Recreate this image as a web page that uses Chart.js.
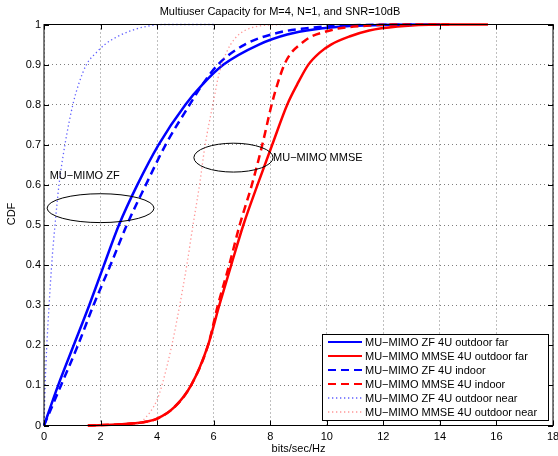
<!DOCTYPE html>
<html>
<head>
<meta charset="utf-8">
<script src="https://cdn.jsdelivr.net/npm/chart.js@4.4.1/dist/chart.umd.min.js"></script>
<style>
html,body{margin:0;padding:0;background:#fff;}
#wrap{width:558px;height:456px;}
</style>
</head>
<body>
<div id="wrap"><canvas id="c" width="558" height="456"></canvas></div>
<script>
// ---- data ----
const titleText = "Multiuser Capacity for M=4, N=1, and SNR=10dB";
const xAxisLabel = "bits/sec/Hz";
const yAxisLabel = "CDF";
const xTicks = [0,2,4,6,8,10,12,14,16,18];
const yTicks = [0,0.1,0.2,0.3,0.4,0.5,0.6,0.7,0.8,0.9,1];

const seriesLabels = [
  "MU\u2212MIMO ZF 4U outdoor far",
  "MU\u2212MIMO MMSE 4U outdoor far",
  "MU\u2212MIMO ZF 4U indoor",
  "MU\u2212MIMO MMSE 4U indoor",
  "MU\u2212MIMO ZF 4U outdoor near",
  "MU\u2212MIMO MMSE 4U outdoor near"
];

const zfFarX  = [0,0.5,1.05,1.6,2.12,2.65,3.3,4.05,5.0,5.6,6.35,7.6,8.6,9.6,10.8,12.0,14.0];
const zfFarY  = [0,0.1,0.2,0.3,0.4,0.5,0.6,0.7,0.8,0.85,0.9,0.95,0.975,0.988,0.996,0.999,1];

const mmseFarX = [1.55,2.7,3.5,4.0,4.6,5.2,5.8,6.2,6.62,7.05,7.55,8.07,8.6,8.95,9.35,9.75,10.15,10.8,11.5,12.5,14.0,15.7];
const mmseFarY = [0,0.003,0.008,0.017,0.045,0.1,0.2,0.3,0.4,0.5,0.6,0.7,0.8,0.85,0.9,0.93,0.95,0.97,0.985,0.995,1,1];

const zfInX  = [0,0.6,1.2,1.75,2.35,2.93,3.6,4.3,5.15,5.6,6.15,7.1,8.3,9.2,10.5,13.0];
const zfInY  = [0,0.1,0.2,0.3,0.4,0.5,0.6,0.7,0.8,0.85,0.9,0.95,0.98,0.99,0.997,1];

const mmseInX = [1.55,2.7,3.5,4.0,4.6,5.2,5.8,6.15,6.55,6.92,7.35,7.72,8.05,8.25,8.5,8.75,9.05,9.45,9.85,10.4,11.2,12.5,14.5];
const mmseInY = [0,0.003,0.008,0.017,0.045,0.1,0.2,0.3,0.4,0.5,0.6,0.7,0.8,0.85,0.9,0.93,0.95,0.97,0.98,0.99,0.996,1,1];

const zfNearX = [0,0.04,0.1,0.18,0.27,0.39,0.53,0.74,1.02,1.22,1.5,1.85,2.15,2.6,3.1,3.6,4.2,6.0];
const zfNearY = [0,0.1,0.2,0.3,0.4,0.5,0.6,0.7,0.8,0.85,0.9,0.93,0.95,0.97,0.985,0.995,1,1];

const mmseNearX = [3.15,3.5,4.0,4.17,4.52,4.8,5.05,5.27,5.5,5.7,5.97,6.2,6.45,6.75,7.1,7.6,8.5];
const mmseNearY = [0,0.013,0.064,0.1,0.2,0.3,0.4,0.5,0.6,0.7,0.8,0.88,0.93,0.965,0.985,0.996,1];

// annotations (data coordinates)
const ellipseCX = [2.0, 6.7];
const ellipseCY = [0.542, 0.668];
const ellipseRX = [1.89, 1.4];
const ellipseRY = [0.036, 0.036];
const noteText = ["MU\u2212MIMO ZF", "MU\u2212MIMO MMSE"];
const noteX = [0.2, 8.1];
const noteY = [0.623, 0.666];

// ---- build ----
function pts(xs, ys){ return xs.map((x,i)=>({x:x, y:ys[i]})); }

const styles = [
  {color:'#0000ff', width:2.5, dash:[]},
  {color:'#ff0000', width:2.5, dash:[]},
  {color:'#0000ff', width:2.5, dash:[8,5]},
  {color:'#ff0000', width:2.5, dash:[8,5]},
  {color:'rgba(40,40,255,0.75)', width:1.3, dash:[1.3,2.7]},
  {color:'rgba(255,80,80,0.6)', width:1.3, dash:[1.3,2.7]}
];
const seriesData = [
  pts(zfFarX, zfFarY), pts(mmseFarX, mmseFarY), pts(zfInX, zfInY),
  pts(mmseInX, mmseInY), pts(zfNearX, zfNearY), pts(mmseNearX, mmseNearY)
];

const datasets = seriesData.map((d,i)=>({
  label: seriesLabels[i],
  data: d,
  borderColor: styles[i].color,
  backgroundColor: styles[i].color,
  borderWidth: styles[i].width,
  borderDash: styles[i].dash,
  pointRadius: 0,
  pointHoverRadius: 0,
  fill: false,
  cubicInterpolationMode: 'monotone',
  clip: 4,
  order: 5 - i
}));

const FONT = '"Liberation Sans", Arial, Helvetica, sans-serif';

const decor = {
  id: 'decor',
  afterDatasetsDraw(chart){
    const ctx = chart.ctx, a = chart.chartArea;
    const xs = chart.scales.x, ys = chart.scales.y;
    ctx.save();
    // box
    ctx.strokeStyle = '#000'; ctx.lineWidth = 1; ctx.setLineDash([]);
    ctx.strokeRect(a.left, a.top, a.right - a.left, a.bottom - a.top);
    // inward ticks
    ctx.beginPath();
    xTicks.forEach(v=>{
      const p = Math.round(xs.getPixelForValue(v)) + 0.5;
      ctx.moveTo(p, a.bottom); ctx.lineTo(p, a.bottom - 5);
      ctx.moveTo(p, a.top); ctx.lineTo(p, a.top + 5);
    });
    yTicks.forEach(v=>{
      const p = Math.round(ys.getPixelForValue(v)) + 0.5;
      ctx.moveTo(a.left, p); ctx.lineTo(a.left + 5, p);
      ctx.moveTo(a.right, p); ctx.lineTo(a.right - 5, p);
    });
    ctx.stroke();
    // ellipses
    ctx.lineWidth = 1;
    for (let i=0;i<ellipseCX.length;i++){
      const cx = xs.getPixelForValue(ellipseCX[i]);
      const cy = ys.getPixelForValue(ellipseCY[i]);
      const rx = Math.abs(xs.getPixelForValue(ellipseCX[i]+ellipseRX[i]) - cx);
      const ry = Math.abs(ys.getPixelForValue(ellipseCY[i]+ellipseRY[i]) - cy);
      ctx.beginPath(); ctx.ellipse(cx, cy, rx, ry, 0, 0, Math.PI*2); ctx.stroke();
    }
    // notes
    ctx.fillStyle = '#000';
    ctx.font = '11px ' + FONT;
    ctx.textAlign = 'left'; ctx.textBaseline = 'middle';
    for (let i=0;i<noteText.length;i++){
      ctx.fillText(noteText[i], xs.getPixelForValue(noteX[i]), ys.getPixelForValue(noteY[i]));
    }
    // legend
    const lx = 322, ly = 334, lw = 226, lh = 86;
    ctx.fillStyle = '#fff';
    ctx.fillRect(lx, ly, lw, lh);
    ctx.strokeStyle = '#000';
    ctx.strokeRect(lx + 0.5, ly + 0.5, lw, lh);
    chart.data.datasets.forEach((ds,i)=>{
      const y = ly + 8 + i*14;
      ctx.save();
      ctx.strokeStyle = ds.borderColor;
      ctx.lineWidth = Math.min(ds.borderWidth, 2.2);
      ctx.setLineDash(ds.borderDash);
      ctx.beginPath(); ctx.moveTo(lx + 6, y); ctx.lineTo(lx + 40, y); ctx.stroke();
      ctx.restore();
      ctx.fillStyle = '#000';
      ctx.fillText(ds.label, lx + 43, y + 0.5);
    });
    // title
    ctx.textAlign = 'center';
    ctx.fillText(titleText, 280, 12);
    // y axis title
    ctx.save();
    ctx.translate(12, 214);
    ctx.rotate(-Math.PI/2);
    ctx.fillText(yAxisLabel, 0, 0);
    ctx.restore();
    ctx.restore();
  }
};

new Chart(document.getElementById('c'), {
  type: 'line',
  data: { datasets },
  options: {
    responsive: false,
    animation: false,
    events: [],
    layout: { padding: { top: 24.5, right: 5, left: 0, bottom: 0 } },
    plugins: { legend: { display: false }, tooltip: { enabled: false }, title: { display: false } },
    scales: {
      x: {
        type: 'linear', min: 0, max: 18,
        afterBuildTicks: s => { s.ticks = xTicks.map(v=>({value:v})); },
        afterFit: s => { s.height = 30.5; s.paddingLeft = 0; s.paddingRight = 0; },
        grid: { color: 'rgba(0,0,0,0.5)', lineWidth: 1, drawTicks: false },
        border: { display: false, dash: [1,3] },
        ticks: { color: '#000', padding: 5, maxRotation: 0, autoSkip: false, font: { family: FONT, size: 11 },
                 callback: v => String(v) },
        title: { display: true, text: xAxisLabel, color: '#000', font: { family: FONT, size: 11 }, padding: { top: 0, bottom: 0 } }
      },
      y: {
        type: 'linear', min: 0, max: 1,
        afterBuildTicks: s => { s.ticks = yTicks.map(v=>({value:v})); },
        afterFit: s => { s.width = 44; s.paddingTop = 0; s.paddingBottom = 0; },
        grid: { color: 'rgba(0,0,0,0.5)', lineWidth: 1, drawTicks: false },
        border: { display: false, dash: [1,3] },
        ticks: { color: '#000', padding: 3, autoSkip: false, font: { family: FONT, size: 11 },
                 callback: v => String(Math.round(v*10)/10) },
        title: { display: false }
      }
    }
  },
  plugins: [decor]
});
</script>
</body>
</html>
